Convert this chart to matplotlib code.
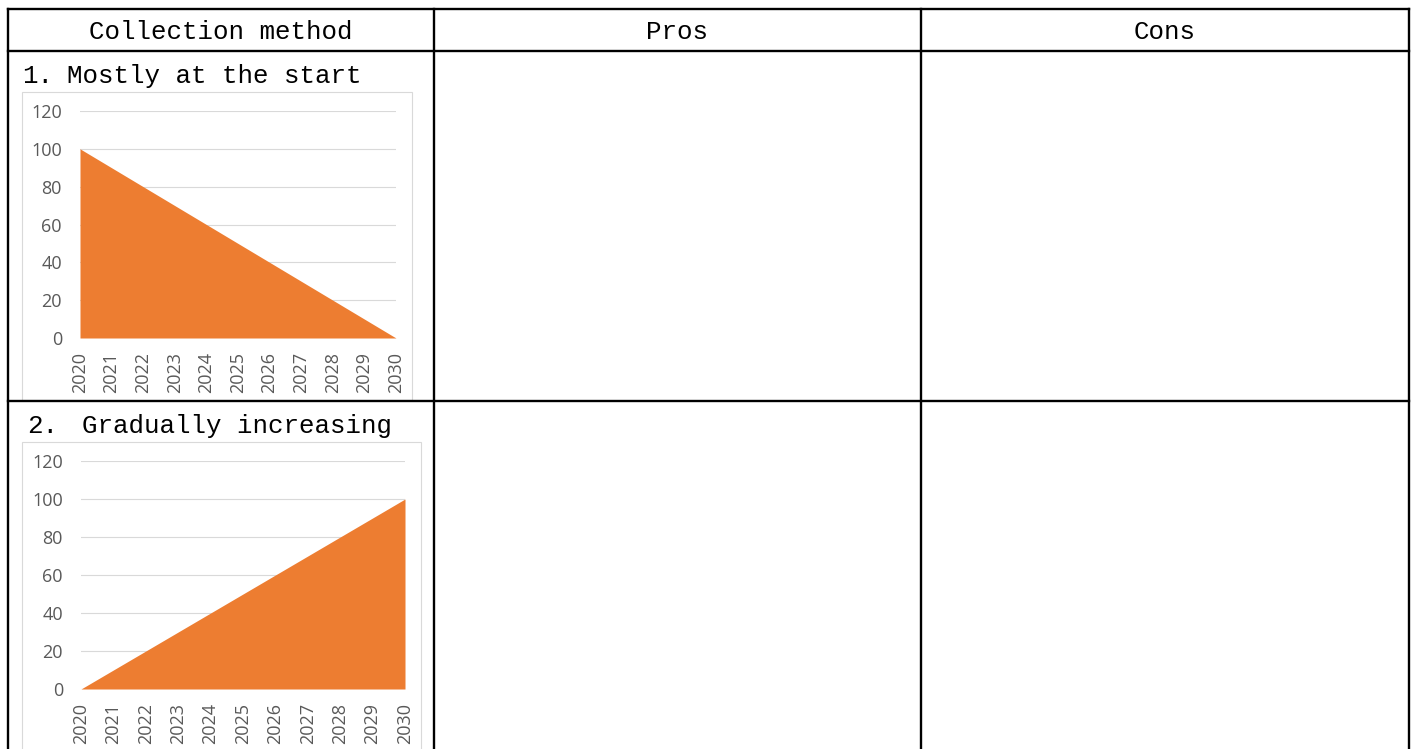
import numpy as np
import matplotlib
matplotlib.use("Agg")
import matplotlib.pyplot as plt
from matplotlib import patches

# table content
headers = ["Collection method", "Pros", "Cons"]
row_numbers = ["1.", "2."]
row_titles = ["Mostly at the start", "Gradually increasing"]

# chart data
years = [2020, 2021, 2022, 2023, 2024, 2025, 2026, 2027, 2028, 2029, 2030]
start_heavy = [100, 90, 80, 70, 60, 50, 40, 30, 20, 10, 0]
increasing = [0, 10, 20, 30, 40, 50, 60, 70, 80, 90, 100]
yticks = [0, 20, 40, 60, 80, 100, 120]

W, H = 1414, 749
fig = plt.figure(figsize=(W / 100, H / 100), dpi=100)
ax = fig.add_axes([0, 0, 1, 1])
ax.set_xlim(0, W)
ax.set_ylim(H, 0)
ax.axis('off')

table_font = 'Liberation Mono'
fs = 18.6
orange = '#ED7D31'
grid_col = '#D9D9D9'
label_col = '#595959'

# table grid
col_x = [8, 434, 921, 1409]
row_y = [9, 51, 401, 760]
lw = 1.7
for y in row_y:
    ax.plot([col_x[0], col_x[-1]], [y, y], color='black', linewidth=lw, solid_capstyle='projecting', zorder=5)
for x in col_x:
    ax.plot([x, x], [row_y[0], row_y[-1]], color='black', linewidth=lw, solid_capstyle='projecting', zorder=5)

for i, h in enumerate(headers):
    ax.text((col_x[i] + col_x[i + 1]) / 2, 39, h, ha='center', va='baseline',
            fontsize=fs, family=table_font, color='black')

# row titles (number and text)
ax.text(22, 83, row_numbers[0], ha='left', va='baseline', fontsize=fs, family=table_font)
ax.text(67, 83, row_titles[0], ha='left', va='baseline', fontsize=fs, family=table_font)
ax.text(27, 433, row_numbers[1], ha='left', va='baseline', fontsize=fs, family=table_font)
ax.text(82, 433, row_titles[1], ha='left', va='baseline', fontsize=fs, family=table_font)

# chart frames
frames = [(22, 92, 412, 400), (22, 442, 421, 760)]
for (x0, y0, x1, y1) in frames:
    rect = patches.Rectangle((x0, y0), x1 - x0, y1 - y0, facecolor='white', edgecolor=grid_col, linewidth=0.8, zorder=1)
    ax.add_patch(rect)


def pix_axes(x0, y0, x1, y1):
    return fig.add_axes([x0 / W, 1 - y1 / H, (x1 - x0) / W, (y1 - y0) / H])


def area_chart(a, values):
    a.fill_between(years, 0, values, color=orange, linewidth=0, zorder=3)
    a.set_xlim(years[0], years[-1])
    a.set_ylim(0, 120)
    a.set_yticks(yticks)
    a.set_xticks(years)
    a.set_xticklabels([str(y) for y in years], rotation=90)
    a.grid(axis='y', color=grid_col, linewidth=0.8, zorder=0)
    a.set_axisbelow(True)
    for s in a.spines.values():
        s.set_visible(False)
    a.tick_params(axis='both', length=0, colors=label_col, labelsize=13)
    a.tick_params(axis='y', pad=13)
    a.tick_params(axis='x', pad=10)
    for lab in a.get_xticklabels() + a.get_yticklabels():
        lab.set_family('Open Sans')
    a.patch.set_alpha(0)


ax1 = pix_axes(80, 111, 396, 338)
area_chart(ax1, start_heavy)
ax2 = pix_axes(81, 461, 405, 689)
area_chart(ax2, increasing)

fig.savefig('out.png', dpi=100)
